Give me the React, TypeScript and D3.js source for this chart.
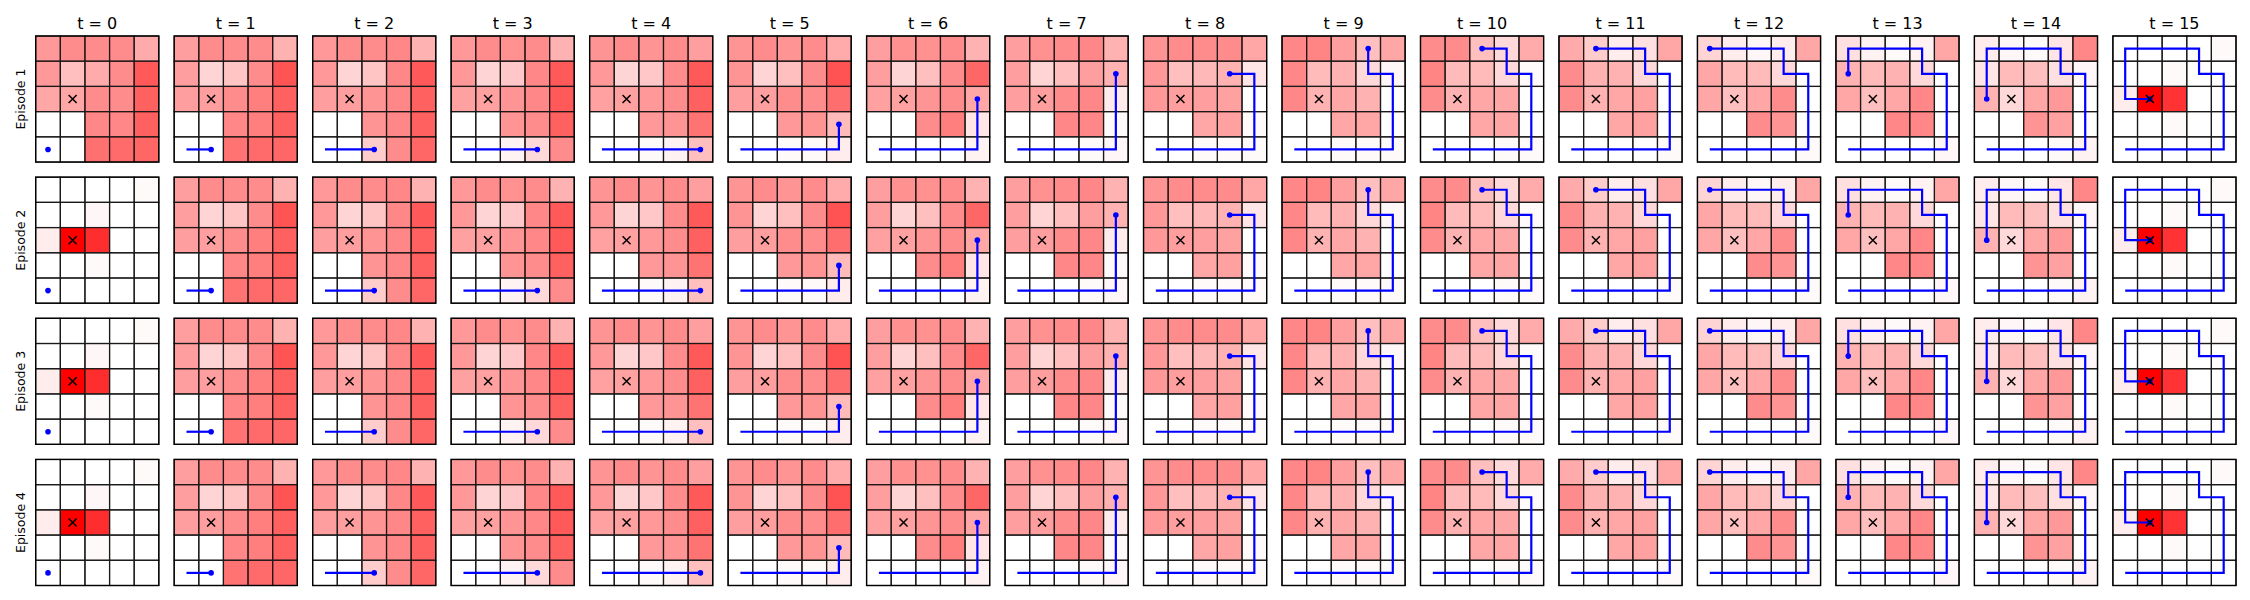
import React from "react"
import * as d3 from "d3"

const timesteps = [0, 1, 2, 3, 4, 5, 6, 7, 8, 9, 10, 11, 12, 13, 14, 15]
const episodes = ["Episode 1", "Episode 2", "Episode 3", "Episode 4"]

// agent position per step (column, row from the top)
const pathCol = [0, 1, 2, 3, 4, 4, 4, 4, 3, 3, 2, 1, 0, 0, 0, 1]
const pathRow = [4, 4, 4, 4, 4, 3, 2, 1, 1, 0, 0, 0, 0, 1, 2, 2]
const goalCol = 1
const goalRow = 2

// belief maps (red intensity 0..1), rows from the top
const beliefs = [
  [[0.4, 0.45, 0.45, 0.45, 0.33], [0.4, 0.25, 0.33, 0.45, 0.65], [0.35, 0.35, 0.45, 0.45, 0.62], [0, 0, 0.47, 0.47, 0.62], [0, 0, 0.56, 0.58, 0.6]],
  [[0.38, 0.45, 0.45, 0.45, 0.3], [0.38, 0.17, 0.23, 0.45, 0.67], [0.38, 0.38, 0.45, 0.5, 0.62], [0, 0, 0.47, 0.5, 0.62], [0, 0, 0.55, 0.58, 0.6]],
  [[0.4, 0.45, 0.45, 0.47, 0.3], [0.4, 0.17, 0.23, 0.47, 0.65], [0.38, 0.38, 0.42, 0.47, 0.62], [0, 0, 0.42, 0.47, 0.62], [0, 0, 0.2, 0.45, 0.6]],
  [[0.4, 0.45, 0.43, 0.45, 0.3], [0.4, 0.17, 0.22, 0.47, 0.65], [0.37, 0.37, 0.42, 0.47, 0.65], [0, 0, 0.42, 0.45, 0.62], [0, 0, 0.05, 0.15, 0.45]],
  [[0.42, 0.45, 0.42, 0.45, 0.38], [0.4, 0.17, 0.22, 0.45, 0.65], [0.37, 0.37, 0.4, 0.45, 0.62], [0, 0, 0.4, 0.42, 0.55], [0, 0, 0.02, 0.05, 0.25]],
  [[0.42, 0.45, 0.42, 0.45, 0.33], [0.42, 0.17, 0.25, 0.45, 0.68], [0.38, 0.38, 0.45, 0.45, 0.57], [0, 0, 0.4, 0.42, 0.27], [0, 0, 0.02, 0.02, 0.07]],
  [[0.38, 0.43, 0.43, 0.45, 0.3], [0.38, 0.17, 0.25, 0.45, 0.6], [0.37, 0.37, 0.42, 0.45, 0.35], [0, 0, 0.45, 0.5, 0.1], [0, 0, 0, 0, 0.05]],
  [[0.38, 0.43, 0.45, 0.47, 0.3], [0.38, 0.17, 0.25, 0.38, 0.3], [0.38, 0.38, 0.45, 0.47, 0.08], [0, 0, 0.47, 0.47, 0.02], [0, 0, 0, 0.02, 0.03]],
  [[0.42, 0.45, 0.45, 0.45, 0.35], [0.4, 0.25, 0.28, 0.3, 0.1], [0.4, 0.38, 0.38, 0.37, 0], [0, 0, 0.35, 0.37, 0.02], [0, 0, 0.02, 0.02, 0.02]],
  [[0.47, 0.48, 0.38, 0.25, 0.35], [0.47, 0.27, 0.3, 0.15, 0.03], [0.47, 0.3, 0.35, 0.3, 0], [0, 0, 0.35, 0.35, 0], [0, 0, 0.02, 0.02, 0.02]],
  [[0.45, 0.45, 0.25, 0.15, 0.33], [0.48, 0.27, 0.27, 0.15, 0.02], [0.45, 0.3, 0.35, 0.35, 0], [0, 0, 0.35, 0.35, 0], [0, 0, 0, 0.02, 0.02]],
  [[0.33, 0.2, 0.07, 0.12, 0.35], [0.45, 0.3, 0.3, 0.15, 0], [0.45, 0.3, 0.35, 0.37, 0], [0, 0, 0.35, 0.37, 0], [0, 0, 0, 0, 0.02]],
  [[0.17, 0.07, 0.03, 0.07, 0.35], [0.35, 0.27, 0.27, 0.15, 0], [0.35, 0.25, 0.35, 0.45, 0], [0, 0, 0.45, 0.42, 0], [0, 0, 0, 0, 0.02]],
  [[0.12, 0.05, 0.02, 0.05, 0.35], [0.3, 0.27, 0.3, 0.15, 0], [0.35, 0.25, 0.35, 0.47, 0], [0, 0, 0.47, 0.47, 0], [0, 0, 0, 0, 0.03]],
  [[0.07, 0.03, 0.02, 0.1, 0.47], [0.1, 0.27, 0.25, 0.12, 0.03], [0.3, 0.15, 0.35, 0.4, 0], [0, 0, 0.42, 0.37, 0], [0, 0, 0, 0.02, 0.05]],
  [[0, 0, 0, 0, 0.02], [0, 0, 0.02, 0, 0], [0.07, 1, 0.8, 0, 0], [0, 0, 0.02, 0, 0], [0, 0, 0, 0, 0]],
]

// belief carried over at the start of episodes 2-4
const carriedBelief = [[0, 0, 0, 0, 0.02], [0, 0, 0.03, 0, 0], [0.07, 1, 0.82, 0, 0], [0, 0, 0.02, 0, 0], [0, 0, 0, 0, 0]]

const WIDTH = 2250
const HEIGHT = 600

function Panel({ ep, t, w, h }) {
  const grid = ep > 0 && t === 0 ? carriedBelief : beliefs[t]
  const x = d3.scaleLinear().domain([0, 5]).range([0, w])
  const y = d3.scaleLinear().domain([0, 5]).range([0, h])
  const cells = grid.flatMap((row, r) => row.map((v, c) => ({ r, c, v })))
  const steps = d3.range(t + 1)
  const line = d3
    .line<number>()
    .x((i) => x(pathCol[i] + 0.5))
    .y((i) => y(pathRow[i] + 0.5))
  const gx = x(goalCol + 0.5)
  const gy = y(goalRow + 0.5)
  const m = 4
  return (
    <g>
      {cells.map((d) => (
        <rect
          key={`${d.r}-${d.c}`}
          x={x(d.c)}
          y={y(d.r)}
          width={x(1) - x(0)}
          height={y(1) - y(0)}
          fill={`rgba(255,0,0,${d.v})`}
          stroke="#1a1a1a"
          strokeWidth={1.2}
        />
      ))}
      <rect x={0} y={0} width={w} height={h} fill="none" stroke="#000" strokeWidth={1.3} />
      {t > 0 && (
        <path d={line(steps) ?? ""} fill="none" stroke="#0000ff" strokeWidth={2.2} />
      )}
      <circle cx={x(pathCol[t] + 0.5)} cy={y(pathRow[t] + 0.5)} r={2.8} fill="#0000ff" />
      <path
        d={`M${gx - m},${gy - m}L${gx + m},${gy + m}M${gx - m},${gy + m}L${gx + m},${gy - m}`}
        stroke="#000"
        strokeWidth={1.5}
      />
    </g>
  )
}

export default function App() {
  const col = d3.scaleBand<number>().domain(timesteps).range([35.7, 2236]).paddingInner(0.111)
  const row = d3.scaleBand<string>().domain(episodes).range([36, 585.5]).paddingInner(0.107)
  const w = col.bandwidth()
  const h = row.bandwidth()

  return (
    <svg
      width={WIDTH}
      height={HEIGHT}
      style={{ position: "absolute", left: 0, top: 0, background: "#fff" }}
      fontFamily="DejaVu Sans"
    >
      {timesteps.map((t) => (
        <text key={t} x={(col(t) ?? 0) + w / 2} y={28.5} textAnchor="middle" fontSize={16}>
          {`t = ${t}`}
        </text>
      ))}
      {episodes.map((e, ei) => (
        <g key={e}>
          <text
            transform={`translate(25, ${(row(e) ?? 0) + h / 2}) rotate(-90)`}
            textAnchor="middle"
            fontSize={12.5}
          >
            {e}
          </text>
          {timesteps.map((t) => (
            <g key={t} transform={`translate(${col(t)}, ${row(e)})`}>
              <Panel ep={ei} t={t} w={w} h={h} />
            </g>
          ))}
        </g>
      ))}
    </svg>
  )
}
